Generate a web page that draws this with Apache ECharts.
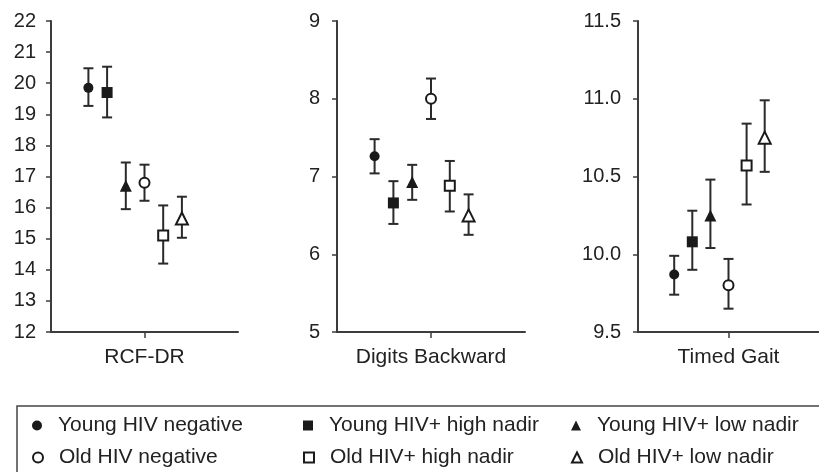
<!DOCTYPE html>
<html>
<head>
<meta charset="utf-8">
<script src="https://cdn.jsdelivr.net/npm/echarts@6/dist/echarts.min.js"></script>
<style>
  html, body { margin: 0; padding: 0; background: #fff; }
  #chart { width: 819px; height: 472px; }
</style>
</head>
<body>
<div id="chart"></div>
<script>
// groups, in plotting order (left to right inside each panel)
const groups = ['Young HIV negative', 'Young HIV+ high nadir', 'Young HIV+ low nadir',
                'Old HIV negative', 'Old HIV+ high nadir', 'Old HIV+ low nadir'];
const measures = ['RCF-DR', 'Digits Backward', 'Timed Gait'];

// means and error bar ends
const rcfMean = [19.85, 19.7, 16.7, 16.8, 15.1, 15.65];
const rcfLow = [19.27, 18.9, 15.95, 16.22, 14.2, 15.03];
const rcfHigh = [20.48, 20.53, 17.45, 17.38, 16.07, 16.35];

const digitsMean = [7.26, 6.66, 6.93, 8.0, 6.88, 6.5];
const digitsLow = [7.04, 6.39, 6.7, 7.74, 6.55, 6.25];
const digitsHigh = [7.48, 6.94, 7.15, 8.26, 7.2, 6.77];

const gaitMean = [9.87, 10.08, 10.25, 9.8, 10.57, 10.75];
const gaitLow = [9.74, 9.9, 10.04, 9.65, 10.32, 10.53];
const gaitHigh = [9.99, 10.28, 10.48, 9.97, 10.84, 10.99];

// y axis ticks per panel
const yMin = [12, 5, 9.5];
const yMax = [22, 9, 11.5];
const yStep = [1, 1, 0.5];

const means = [rcfMean, digitsMean, gaitMean];
const lows = [rcfLow, digitsLow, gaitLow];
const highs = [rcfHigh, digitsHigh, gaitHigh];

const FONT = 'Liberation Sans, Arial, Helvetica, sans-serif';
const INK = '#222';
const AXIS = '#3c3c3c';
const symbols = ['circle', 'rect', 'triangle', 'emptyCircle', 'emptyRect', 'emptyTriangle'];
const symbolSizes = [10, 11, 12, 10, 10, 12];

const gridBoxes = [
  { left: 51, top: 21, width: 187, height: 311 },
  { left: 337, top: 21, width: 188, height: 311 },
  { left: 638, top: 21, width: 186, height: 311 }
];

const chart = echarts.init(document.getElementById('chart'));

const grid = [], xAxis = [], yAxis = [], series = [];

measures.forEach((m, k) => {
  grid.push(gridBoxes[k]);
  xAxis.push({
    gridIndex: k,
    type: 'value',
    min: -5,
    max: 5,
    name: m,
    nameLocation: 'middle',
    nameGap: 15,
    nameTextStyle: { color: INK, fontSize: 21, fontFamily: FONT },
    axisLine: { onZero: false, lineStyle: { color: AXIS, width: 2 } },
    axisTick: { show: true, length: 6, customValues: [0], lineStyle: { color: AXIS, width: 1.5 } },
    axisLabel: { show: false },
    splitLine: { show: false }
  });
  yAxis.push({
    gridIndex: k,
    type: 'value',
    min: yMin[k],
    max: yMax[k],
    interval: yStep[k],
    axisLine: { show: true, onZero: false, lineStyle: { color: AXIS, width: 2 } },
    axisTick: { show: true, length: 5, lineStyle: { color: AXIS, width: 1.5 } },
    axisLabel: {
      color: INK, fontSize: 20, fontFamily: FONT, margin: k === 0 ? 15 : 17,
      formatter: v => yStep[k] < 1 ? v.toFixed(1) : String(v)
    },
    splitLine: { show: false }
  });

  // error bars
  series.push({
    type: 'custom',
    xAxisIndex: k,
    yAxisIndex: k,
    z: 2,
    silent: true,
    data: groups.map((g, i) => [i - 3, lows[k][i], highs[k][i]]),
    renderItem: (params, api) => {
      const lo = api.coord([api.value(0), api.value(1)]);
      const hi = api.coord([api.value(0), api.value(2)]);
      const cap = 5;
      const style = { stroke: '#2a2a2a', lineWidth: 2 };
      return {
        type: 'group',
        children: [
          { type: 'line', shape: { x1: lo[0], y1: lo[1], x2: hi[0], y2: hi[1] }, style },
          { type: 'line', shape: { x1: hi[0] - cap, y1: hi[1], x2: hi[0] + cap, y2: hi[1] }, style },
          { type: 'line', shape: { x1: lo[0] - cap, y1: lo[1], x2: lo[0] + cap, y2: lo[1] }, style }
        ]
      };
    }
  });

  // means
  groups.forEach((g, i) => {
    series.push({
      name: g,
      type: 'scatter',
      xAxisIndex: k,
      yAxisIndex: k,
      z: 3,
      symbol: symbols[i],
      symbolSize: symbolSizes[i],
      itemStyle: { color: '#1a1a1a', opacity: 1 },
      data: [[i - 3, means[k][i]]]
    });
  });
});

// one legend per entry so the columns line up like the boxed key
const legendTextX = [58, 329, 597];
const legendRowY = [427, 459];
const legend = groups.map((g, i) => {
  const col = i % 3, row = Math.floor(i / 3);
  return {
    left: legendTextX[col] - 26,
    top: legendRowY[row] - 12,
    padding: 0,
    itemWidth: 10,
    itemHeight: 10,
    selectedMode: false,
    textStyle: { color: INK, fontSize: 21, fontFamily: FONT, padding: [0, 0, 0, 11] },
    data: [{ name: g, icon: symbols[i] }]
  };
});

chart.setOption({
  animation: false,
  backgroundColor: '#fff',
  grid,
  xAxis,
  yAxis,
  legend,
  series,
  graphic: [{
    type: 'rect',
    shape: { x: 17, y: 406, width: 900, height: 120 },
    style: { fill: 'none', stroke: '#444', lineWidth: 1.5 },
    silent: true
  }]
});
</script>
</body>
</html>
